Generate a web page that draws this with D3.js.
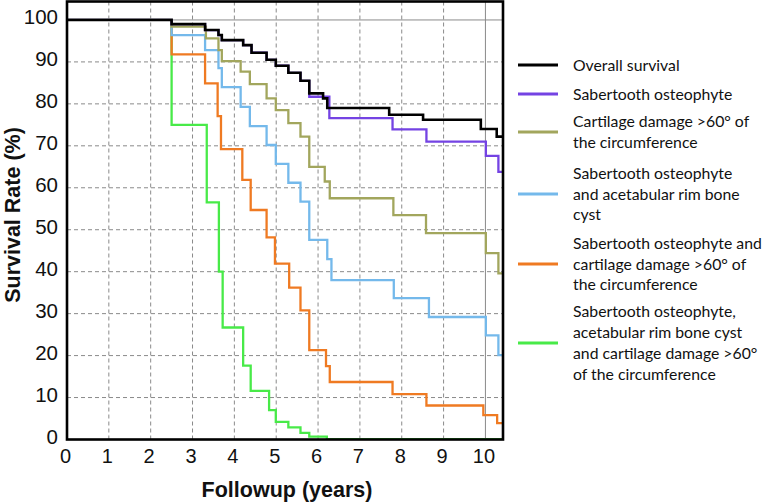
<!DOCTYPE html>
<html><head><meta charset="utf-8">
<script src="https://cdn.jsdelivr.net/npm/d3@7/dist/d3.min.js"></script>
<style>
html,body{margin:0;padding:0;background:#fff;}
svg{display:block;}
</style></head>
<body>
<svg id="chart" width="765" height="502"></svg>
<script>
// ---- Data ----
const xTicks = [0,1,2,3,4,5,6,7,8,9,10];
const yTicks = [0,10,20,30,40,50,60,70,80,90,100];

const overallT = [0, 2.50, 3.30, 3.62, 3.70, 4.21, 4.41, 4.77, 4.99, 5.29, 5.58, 5.79, 6.12, 6.22, 7.70, 8.51, 9.89, 10.27];
const overallS = [100, 99.0, 97.6, 96.4, 95.2, 94.0, 92.2, 90.5, 89.1, 87.4, 85.5, 82.5, 81.3, 79.0, 77.4, 76.2, 74.0, 72.2];

const saberT = [0, 2.50, 3.30, 3.62, 3.70, 4.21, 4.41, 4.77, 4.99, 5.29, 5.58, 5.79, 6.27, 7.78, 8.59, 10.01, 10.31];
const saberS = [100, 99.0, 97.6, 96.4, 95.2, 94.0, 92.2, 90.5, 89.1, 87.4, 85.5, 81.7, 76.6, 73.9, 71.0, 67.6, 63.8];

const cartT = [0, 2.50, 3.32, 3.62, 3.70, 4.15, 4.37, 4.77, 4.99, 5.29, 5.58, 5.79, 6.16, 6.28, 7.80, 8.58, 10.01, 10.31];
const cartS = [100, 98.4, 95.6, 92.8, 90.2, 87.7, 84.7, 81.3, 78.5, 75.4, 72.2, 65.0, 61.5, 57.5, 53.5, 49.2, 44.4, 39.6];

const saberCystT = [0, 2.50, 3.30, 3.62, 3.70, 4.15, 4.37, 4.77, 4.99, 5.29, 5.58, 5.79, 6.22, 6.32, 7.81, 8.65, 10.01, 10.31];
const saberCystS = [100, 96.4, 92.8, 88.5, 84.0, 79.3, 74.7, 70.2, 65.7, 61.2, 56.7, 47.6, 43.0, 38.0, 33.7, 29.2, 24.8, 20.1];

const saberCartT = [0, 2.50, 3.30, 3.60, 3.68, 4.19, 4.39, 4.77, 4.97, 5.31, 5.58, 5.79, 6.19, 6.28, 7.78, 8.59, 9.95, 10.28];
const saberCartS = [100, 91.8, 84.9, 77.1, 69.2, 61.9, 54.7, 48.2, 41.9, 36.2, 30.8, 21.3, 17.5, 13.7, 10.8, 8.1, 5.8, 3.9];

const allThreeT = [0, 2.50, 3.34, 3.63, 3.72, 4.21, 4.39, 4.83, 4.99, 5.29, 5.58, 5.79, 6.21];
const allThreeS = [100, 75.0, 56.5, 40.0, 26.7, 17.6, 11.6, 7.0, 4.2, 2.9, 1.6, 0.7, 0.1];

const seriesNames = [
  "Overall survival",
  "Sabertooth osteophyte",
  "Cartilage damage >60° of the circumference",
  "Sabertooth osteophyte and acetabular rim bone cyst",
  "Sabertooth osteophyte and cartilage damage >60° of the circumference",
  "Sabertooth osteophyte, acetabular rim bone cyst and cartilage damage >60° of the circumference"
];
const legendLines = [
  ["Overall survival"],
  ["Sabertooth osteophyte"],
  ["Cartilage damage >60° of", "the circumference"],
  ["Sabertooth osteophyte", "and acetabular rim bone", "cyst"],
  ["Sabertooth osteophyte and", "cartilage damage >60° of", "the circumference"],
  ["Sabertooth osteophyte,", "acetabular rim bone cyst", "and cartilage damage >60°", "of the circumference"]
];
const seriesColors = ["#000000", "#7443e3", "#a2a65d", "#74b9eb", "#ef7a22", "#48ea48"];

// ---- Layout ----
const svg = d3.select("#chart");
const L = 67, R = 503, T = 1.5, B = 439.5;
const x = d3.scaleLinear().domain([0, 10.42]).range([L, R]);
const y = d3.scaleLinear().domain([0, 104.4]).range([B, T]);

// grid
const grid = svg.append("g");
grid.selectAll("line.v").data(xTicks.filter(d => d > 0)).join("line")
  .attr("x1", d => x(d)).attr("x2", d => x(d)).attr("y1", T).attr("y2", B)
  .attr("stroke", "#8a8a8a").attr("stroke-width", 1)
  .attr("stroke-dasharray", d => d === 10 ? null : "4,3");
grid.selectAll("line.h").data(yTicks.filter(d => d > 0)).join("line")
  .attr("y1", d => y(d)).attr("y2", d => y(d)).attr("x1", L).attr("x2", R)
  .attr("stroke", "#8a8a8a").attr("stroke-width", 1)
  .attr("stroke-dasharray", d => d === 100 ? null : "4,3");

// clip
svg.append("clipPath").attr("id", "clip").append("rect")
  .attr("x", L).attr("y", T).attr("width", R - L).attr("height", B - T);

const series = [
  {t: overallT, s: overallS},
  {t: saberT, s: saberS},
  {t: cartT, s: cartS},
  {t: saberCystT, s: saberCystS},
  {t: saberCartT, s: saberCartS},
  {t: allThreeT, s: allThreeS}
].map((d, i) => {
  const pts = d.t.map((t, j) => [t, d.s[j]]);
  pts.push([x.domain()[1], d.s[d.s.length - 1]]);
  return {pts, color: seriesColors[i], name: seriesNames[i], idx: i};
});

const line = d3.line().x(d => x(d[0])).y(d => y(d[1])).curve(d3.curveStepAfter);
const lg = svg.append("g").attr("clip-path", "url(#clip)");
// draw in reverse order so black is on top
lg.selectAll("path").data(series.slice().reverse()).join("path")
  .attr("d", d => line(d.pts))
  .attr("fill", "none")
  .attr("stroke", d => d.color)
  .attr("stroke-width", d => d.idx === 0 ? 2.6 : 2.3)
  .attr("stroke-linejoin", "miter");

// frame
svg.append("rect").attr("x", L).attr("y", T).attr("width", R - L).attr("height", B - T)
  .attr("fill", "none").attr("stroke", "#000").attr("stroke-width", 2.6);

// axes via d3 (labels only)
const xAxis = svg.append("g").attr("transform", `translate(0,${B})`)
  .call(d3.axisBottom(x).tickValues(xTicks).tickSize(0).tickPadding(0).tickFormat(d3.format("d")));
xAxis.select(".domain").remove();
xAxis.selectAll("text").attr("y", 23).attr("dy", 0).attr("dx", -2)
  .attr("font-family", "Liberation Sans, Arial, sans-serif").attr("font-size", 20).attr("fill", "#111");

const yAxis = svg.append("g").attr("transform", `translate(${L},0)`)
  .call(d3.axisLeft(y).tickValues(yTicks).tickSize(0).tickPadding(0).tickFormat(d3.format("d")));
yAxis.select(".domain").remove();
yAxis.selectAll("text").attr("x", -9).attr("dy", 4)
  .attr("font-family", "Liberation Sans, Arial, sans-serif").attr("font-size", 20.5).attr("fill", "#111");

// axis titles
svg.append("text").attr("x", 287).attr("y", 497).attr("text-anchor", "middle")
  .attr("font-family", "Liberation Sans, Arial, sans-serif").attr("font-weight", "bold")
  .attr("font-size", 21.5).attr("fill", "#111").text("Followup (years)");
svg.append("text").attr("transform", "translate(20,215) rotate(-90)").attr("text-anchor", "middle")
  .attr("font-family", "Liberation Sans, Arial, sans-serif").attr("font-weight", "bold")
  .attr("font-size", 21.5).attr("fill", "#111").text("Survival Rate (%)");

// legend
const legendY = [65, 94, 132, 194, 264, 343];
const lineH = 20.8;
const leg = svg.append("g");
const texts = [];
legendLines.forEach((lines, i) => {
  const cy = legendY[i];
  leg.append("line").attr("x1", 518).attr("x2", 558).attr("y1", cy).attr("y2", cy)
    .attr("stroke", seriesColors[i]).attr("stroke-width", 3);
  const n = lines.length;
  lines.forEach((txt, k) => {
    const ty = cy + (k - (n - 1) / 2) * lineH;
    texts.push(leg.append("text").attr("x", 573).attr("y", ty).attr("dy", "0.36em")
      .attr("font-family", "Lato, 'Open Sans', sans-serif").attr("font-size", 16)
      .attr("fill", "#111").text(txt));
  });
});
// fit legend font so the longest line spans ~190px as in the reference
let maxW = 0;
texts.forEach(t => { maxW = Math.max(maxW, t.node().getComputedTextLength()); });
const fs = 16 * 189 / maxW;
texts.forEach(t => t.attr("font-size", fs));
</script>
</body></html>
